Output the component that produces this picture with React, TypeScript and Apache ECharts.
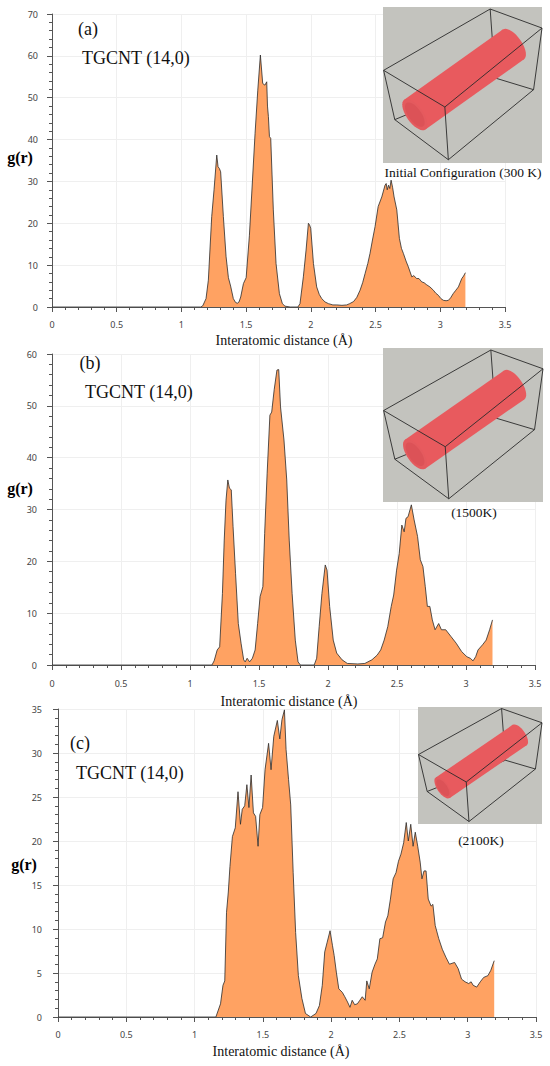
import React, { useEffect, useRef } from "react";
import * as echarts from "echarts";

// ---------- data ----------
const rA = [0, 1.15, 1.165, 1.19, 1.208, 1.234, 1.252, 1.273, 1.283, 1.293, 1.303, 1.324, 1.345, 1.363, 1.38, 1.401, 1.418, 1.432, 1.445, 1.458, 1.479, 1.5, 1.525, 1.543, 1.569, 1.59, 1.61, 1.628, 1.645, 1.659, 1.665, 1.672, 1.68, 1.69, 1.71, 1.731, 1.757, 1.78, 1.8, 1.84, 1.9, 1.916, 1.942, 1.963, 1.981, 1.99, 1.999, 2.02, 2.045, 2.065, 2.084, 2.11, 2.136, 2.17, 2.2, 2.24, 2.277, 2.3, 2.33, 2.355, 2.38, 2.4, 2.419, 2.44, 2.457, 2.476, 2.496, 2.52, 2.548, 2.573, 2.582, 2.59, 2.6, 2.61, 2.62, 2.632, 2.643, 2.664, 2.684, 2.7, 2.715, 2.735, 2.753, 2.78, 2.795, 2.818, 2.835, 2.857, 2.875, 2.895, 2.92, 2.947, 2.965, 2.985, 3.005, 3.024, 3.045, 3.063, 3.08, 3.1, 3.12, 3.14, 3.166, 3.18, 3.194];
const gA = [0, 0, 0.3, 2, 6.4, 21.6, 28, 36.3, 33.5, 33.1, 32.3, 21.6, 12, 7, 5, 2, 1.1, 0.9, 1.2, 2.4, 5.6, 7, 17, 27, 41.5, 51.8, 60.2, 53.4, 53, 53.8, 48, 45.5, 40.7, 40.3, 23.2, 10.4, 3.2, 0.8, 0.2, 0, 0, 0.8, 7.2, 13.6, 20, 19.6, 18.8, 10.4, 4.8, 3, 2, 1.2, 0.8, 0.5, 0.5, 0.4, 0.5, 0.8, 1.3, 2.3, 4, 5.8, 8, 10.4, 12.8, 16, 19.2, 24, 26.3, 29.1, 29.5, 28, 29.1, 28.3, 30.3, 28.5, 26.3, 23.2, 16.4, 14, 12.8, 11, 9.6, 7.2, 7.5, 6.8, 6.8, 6, 5.8, 5.3, 4.8, 4, 3.3, 2.8, 2, 1.6, 1.5, 1.6, 2.2, 3.2, 4, 4.8, 6.8, 7.4, 8.2];

const rB = [0, 1.159, 1.175, 1.197, 1.215, 1.235, 1.248, 1.261, 1.274, 1.286, 1.299, 1.312, 1.33, 1.35, 1.37, 1.389, 1.4, 1.414, 1.432, 1.452, 1.472, 1.49, 1.508, 1.528, 1.541, 1.559, 1.579, 1.592, 1.61, 1.63, 1.643, 1.656, 1.681, 1.701, 1.719, 1.74, 1.763, 1.783, 1.8, 1.9, 1.918, 1.936, 1.956, 1.98, 1.993, 2.012, 2.038, 2.063, 2.102, 2.14, 2.216, 2.267, 2.318, 2.356, 2.382, 2.407, 2.433, 2.458, 2.476, 2.497, 2.516, 2.535, 2.552, 2.565, 2.58, 2.604, 2.624, 2.649, 2.669, 2.688, 2.705, 2.72, 2.738, 2.756, 2.776, 2.802, 2.822, 2.853, 2.891, 2.929, 2.968, 3.006, 3.031, 3.051, 3.07, 3.087, 3.12, 3.146, 3.171, 3.192];
const gB = [0, 0, 0.8, 2.9, 3.5, 13.8, 24.1, 31.8, 35.7, 34.1, 33.8, 26.7, 17.7, 8, 4.2, 1, 0.6, 1.3, 0.6, 1.3, 2.9, 8, 13.2, 15.1, 25.4, 37, 48.2, 48.8, 53.1, 56.9, 57, 49.8, 43.4, 35.7, 24.1, 13.8, 4.8, 0.6, 0, 0, 1.3, 7.4, 13.8, 19.3, 18.3, 11.3, 4.8, 2.3, 1, 0.3, 0.2, 0.3, 1, 1.9, 2.9, 4.8, 7.4, 11.3, 13.5, 18.3, 21.5, 27, 25.7, 28.3, 28.6, 30.9, 28, 24.8, 20.3, 19, 15.1, 11.3, 11.3, 8.7, 6.8, 8, 6.8, 6.8, 5.5, 4.2, 2.6, 1.6, 1.3, 0.8, 1.6, 2.9, 3.9, 4.8, 6.8, 8.7];

const rC = [0, 1.156, 1.19, 1.208, 1.221, 1.234, 1.247, 1.259, 1.277, 1.298, 1.318, 1.336, 1.349, 1.367, 1.383, 1.398, 1.414, 1.431, 1.447, 1.465, 1.478, 1.498, 1.516, 1.542, 1.56, 1.58, 1.606, 1.624, 1.64, 1.658, 1.67, 1.688, 1.704, 1.722, 1.74, 1.76, 1.786, 1.812, 1.85, 1.889, 1.914, 1.935, 1.953, 1.971, 1.992, 2.01, 2.022, 2.038, 2.056, 2.082, 2.1, 2.12, 2.138, 2.154, 2.172, 2.192, 2.21, 2.228, 2.249, 2.261, 2.279, 2.3, 2.321, 2.338, 2.357, 2.377, 2.398, 2.415, 2.434, 2.454, 2.475, 2.493, 2.511, 2.531, 2.55, 2.565, 2.583, 2.6, 2.616, 2.634, 2.652, 2.665, 2.68, 2.695, 2.711, 2.732, 2.745, 2.762, 2.788, 2.814, 2.84, 2.866, 2.904, 2.93, 2.955, 2.981, 3.007, 3.025, 3.04, 3.066, 3.092, 3.117, 3.148, 3.169, 3.194];
const gC = [0, 0, 1.5, 3.6, 4.1, 11.9, 14.2, 17.1, 20.5, 21.5, 25.6, 21.9, 23.6, 24, 26.4, 23.8, 27.5, 23.2, 22.8, 19.4, 23, 23.8, 28.1, 31.1, 28.1, 31.9, 33.7, 31.6, 33.8, 34.9, 30.4, 27, 24.1, 16.4, 9.6, 4.7, 2.1, 0.4, 0, 0.4, 1.3, 3.6, 7.4, 8.5, 9.8, 8.1, 7, 5.1, 3.2, 2.8, 2.3, 1.7, 1.1, 1.9, 1.4, 1.5, 1.9, 2.3, 1.9, 4.1, 3.2, 5.1, 6, 6.6, 8.9, 9, 10.8, 11.5, 13.4, 15.7, 16.4, 17.7, 18.5, 19.8, 22.1, 20, 21.9, 19.4, 21, 19.4, 17.6, 15.7, 16.6, 16.6, 13.4, 12.6, 12.8, 10.4, 8.9, 7.7, 6.8, 6, 6.2, 5.5, 4.3, 4, 3.8, 4, 3.6, 3.4, 4, 4.5, 4.7, 5.3, 6.4];

const yMax = [70, 60, 35];
const yStep = [10, 10, 5];
const panelTags = ["(a)", "(b)", "(c)"];
const sampleName = "TGCNT (14,0)";
const insetCaptions = ["Initial Configuration (300 K)", "(1500K)", "(2100K)"];
const xTitle = "Interatomic distance (Å)";

// ---------- layout ----------
const grids = [
  { left: 52, top: 14, width: 453, height: 293, yOff: 4, xOff: 5 },
  { left: 52, top: 354, width: 483, height: 311, yOff: 5, xOff: 6 },
  { left: 58, top: 709, width: 478, height: 308, yOff: 6, xOff: 5 },
];
const tagPos = [[88, 29], [90, 363], [80, 743]];
const namePos = [[82, 58], [85, 392], [76, 773]];
const gPos = [[20, 157], [20, 488], [24, 864]];
const titlePos = [[284, 340], [289, 701], [281, 1051]];
const insets = [
  { x: 383, y: 7, w: 159, h: 156, r: 0.115, cap: [463, 172] },
  { x: 383, y: 348, w: 160, h: 154, r: 0.11, cap: [474, 512] },
  { x: 418, y: 707, w: 124, h: 117, r: 0.1, cap: [481, 840] },
];

const SERIF = "'Liberation Serif', 'Times New Roman', serif";
const SANS = "'Noto Sans', 'Open Sans', sans-serif";
const FILL = "#FFA262";
const TOP = 100;

function insetGraphic(ins: any) {
  const P = (u: number, v: number) => [ins.x + u * ins.w, ins.y + v * ins.h];
  const A = P(0.004, 0.406), E = P(0.674, 0.013), F = P(1.0, 0.135), B = P(0.389, 0.641);
  const D = P(0.074, 0.722), H = P(0.705, 0.455), G = P(0.947, 0.53), C = P(0.411, 0.979);
  const ln = (p: number[], q: number[]) => ({
    type: "line",
    z: TOP + 1,
    shape: { x1: p[0], y1: p[1], x2: q[0], y2: q[1] },
    style: { stroke: "#2a2a2a", lineWidth: 0.9 },
    silent: true,
  });
  const f = P(0.2, 0.69), b = P(0.82, 0.24);
  const dx = b[0] - f[0], dy = b[1] - f[1];
  const len = Math.hypot(dx, dy);
  const rad = ins.r * ins.w;
  const nx = (-dy / len) * rad, ny = (dx / len) * rad;
  const mx = (dx / len) * rad * 0.45, my = (dy / len) * rad * 0.45;
  const ell = (c: number[], k: number) => {
    const pts: number[][] = [];
    for (let i = 0; i < 36; i++) {
      const t = (i / 36) * Math.PI * 2;
      pts.push([c[0] + nx * k * Math.cos(t) + mx * k * Math.sin(t), c[1] + ny * k * Math.cos(t) + my * k * Math.sin(t)]);
    }
    return pts;
  };
  const tube = (pts: number[][], fill: string, z: number) => ({ type: "polygon", z, shape: { points: pts }, style: { fill }, silent: true });
  const front = [ln(A, B), ln(B, F), ln(B, C)].map((e) => ({ ...e, z: TOP + 3 }));
  return [
    { type: "rect", z: TOP, shape: { x: ins.x, y: ins.y, width: ins.w, height: ins.h }, style: { fill: "#c3c3be" }, silent: true },
    ln(A, E), ln(E, F), ln(D, H), ln(H, G), ln(E, H), ln(F, G), ln(A, D), ln(D, C), ln(C, G),
    tube(ell(b, 1), "#e85a5e", TOP + 2),
    tube([[f[0] + nx, f[1] + ny], [b[0] + nx, b[1] + ny], [b[0] - nx, b[1] - ny], [f[0] - nx, f[1] - ny]], "#e85a5e", TOP + 2),
    tube(ell(f, 1), "#e45a5e", TOP + 2),
    tube(ell(f, 0.78), "#dc5257", TOP + 2),
    ...front,
  ];
}

export default function App() {
  const ref = useRef<HTMLDivElement>(null);
  useEffect(() => {
    if (!ref.current) return;
    const chart = echarts.init(ref.current, null, { renderer: "svg" });
    const rs = [rA, rB, rC];
    const gs = [gA, gB, gC];

    const graphic: any[] = [];
    grids.forEach((_, i) => {
      insetGraphic(insets[i]).forEach((e) => graphic.push(e));
      const txt = (x: number, y: number, text: string, font: string, align: string) => ({
        type: "text",
        z: TOP + 5,
        x,
        y,
        style: { text, font, fill: "#111", align, verticalAlign: "middle" },
      });
      graphic.push(txt(insets[i].cap[0], insets[i].cap[1], insetCaptions[i], `13.5px ${SERIF}`, "center"));
      graphic.push(txt(tagPos[i][0], tagPos[i][1], panelTags[i], `18px ${SERIF}`, "center"));
      graphic.push(txt(namePos[i][0], namePos[i][1], sampleName, `18px ${SERIF}`, "left"));
      graphic.push(txt(titlePos[i][0], titlePos[i][1], xTitle, `14px ${SERIF}`, "center"));
      graphic.push({
        type: "text",
        z: TOP + 5,
        x: gPos[i][0],
        y: gPos[i][1],
        style: {
          text: "{a|g(}{b|r}{a|)}",
          align: "center",
          verticalAlign: "middle",
          rich: {
            a: { fontFamily: SERIF, fontSize: 16, fontWeight: "bold", color: "#111" },
            b: { fontFamily: SERIF, fontSize: 16, fontWeight: "bold", color: "#111" },
          },
        },
      });
    });

    const option: any = {
      animation: false,
      backgroundColor: "#ffffff",
      grid: grids.map((g) => ({ left: g.left, top: g.top, width: g.width, height: g.height, containLabel: false })),
      xAxis: grids.map((g, i) => ({
        type: "value",
        gridIndex: i,
        min: 0,
        max: 3.5,
        interval: 0.5,
        offset: g.xOff,
        axisLine: { show: true, lineStyle: { color: "#555", width: 1 } },
        axisTick: { show: true, inside: false, length: 5, lineStyle: { color: "#555" } },
        minorTick: { show: true, splitNumber: 5, length: 3, lineStyle: { color: "#555" } },
        axisLabel: { color: "#444", fontFamily: SANS, fontSize: 9, margin: 8, showMinLabel: true, showMaxLabel: true },
        splitLine: { show: true, lineStyle: { color: "#efefef", width: 1 } },
      })),
      yAxis: grids.map((g, i) => ({
        type: "value",
        gridIndex: i,
        min: 0,
        max: yMax[i],
        interval: yStep[i],
        offset: g.yOff,
        axisLine: { show: true, lineStyle: { color: "#555", width: 1 } },
        axisTick: { show: true, inside: false, length: 5, lineStyle: { color: "#555" } },
        minorTick: { show: true, splitNumber: 5, length: 3, lineStyle: { color: "#555" } },
        axisLabel: { color: "#444", fontFamily: SANS, fontSize: 9, margin: 10 },
        splitLine: { show: true, lineStyle: { color: "#efefef", width: 1 } },
      })),
      series: grids.map((_, i) => ({
        type: "line",
        xAxisIndex: i,
        yAxisIndex: i,
        data: rs[i].map((r, k) => [r, gs[i][k]]),
        showSymbol: false,
        symbol: "none",
        smooth: false,
        lineStyle: { color: "#2b2b2b", width: 0.8 },
        areaStyle: { color: FILL, opacity: 1 },
        z: 2,
      })),
      graphic: { elements: graphic },
    };
    chart.setOption(option);
    return () => chart.dispose();
  }, []);
  return <div ref={ref} style={{ position: "absolute", left: 0, top: 0, width: 550, height: 1066 }} />;
}
